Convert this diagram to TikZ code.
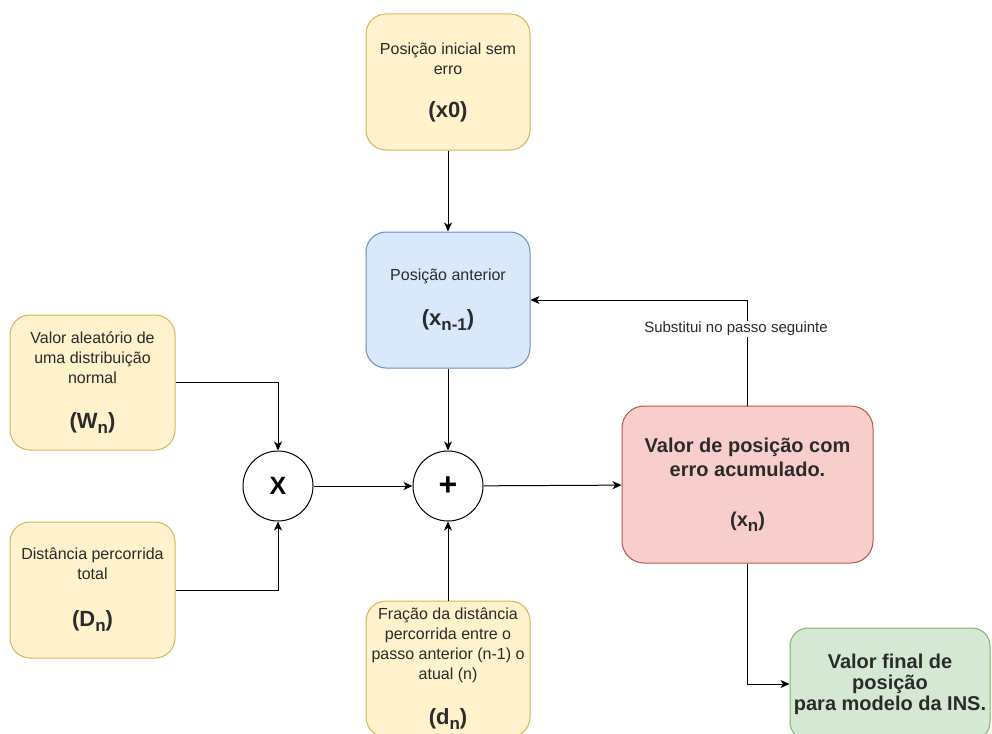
\documentclass[tikz,border=0pt]{standalone}
\usepackage{fontspec}
\setmainfont{Liberation Sans}
\usetikzlibrary{arrows.meta}
\definecolor{yfill}{HTML}{FFF2CC}
\definecolor{ydraw}{HTML}{D6B656}
\definecolor{bfill}{HTML}{DAE8FC}
\definecolor{bdraw}{HTML}{6C8EBF}
\definecolor{rfill}{HTML}{F8CECC}
\definecolor{rdraw}{HTML}{B85450}
\definecolor{gfill}{HTML}{D5E8D4}
\definecolor{gdraw}{HTML}{82B366}
\definecolor{txt}{HTML}{2B2B2B}
% bold variable label and its lowered index
\newcommand{\keyvar}[1]{{\bfseries\fontsize{22}{22}\selectfont #1}}
\newcommand{\subidx}[1]{\raisebox{-5pt}{\fontsize{17}{17}\selectfont #1}}
\begin{document}
\begin{tikzpicture}[x=1pt,y=-1pt,
  box/.style={rectangle, rounded corners=20pt, line width=1pt, align=center,
    inner sep=0pt, text=txt, font=\fontsize{16}{20}\selectfont},
  ybox/.style={box, fill=yfill, draw=ydraw, minimum width=164pt, minimum height=136pt},
  bbox/.style={box, fill=bfill, draw=bdraw, minimum width=164pt, minimum height=136pt},
  rbox/.style={box, fill=rfill, draw=rdraw, minimum width=251pt, minimum height=157pt,
    rounded corners=22pt, font=\bfseries\fontsize{20}{24}\selectfont},
  gbox/.style={box, fill=gfill, draw=gdraw, minimum width=200pt, minimum height=112pt,
    rounded corners=18pt, font=\bfseries\fontsize{20}{21}\selectfont},
  op/.style={circle, draw=black, fill=white, line width=1pt, minimum size=70pt,
    inner sep=0pt, text=black},
  flow/.style={line width=1pt, -{Stealth[length=9pt,width=8pt,inset=2.5pt]}},
  lbl/.style={fill=white, inner sep=1pt, text=txt, font=\fontsize{15}{18}\selectfont}
]
\useasboundingbox (0,0) rectangle (992,733);
\clip (0,0) rectangle (992,733);

% input and state boxes
\node[ybox] (x0) at (448,82) {Posição inicial sem\\erro\\[23pt]\keyvar{(x0)}};
\node[bbox] (prev) at (448,300) {Posição anterior\\[25pt]\keyvar{(x\subidx{\bfseries n-1})}};
\node[ybox, minimum width=165pt, minimum height=135pt] (wn) at (92.5,382.5)
  {Valor aleatório de\\uma distribuição\\normal\\[25pt]\keyvar{(W\subidx{\bfseries n})}};
\node[ybox, minimum width=165pt] (dist) at (92.5,590)
  {Distância percorrida\\total\\[27pt]\keyvar{(D\subidx{\bfseries n})}};
\node[ybox] (frac) at (448,669)
  {Fração da distância\\percorrida entre o\\passo anterior (n-1) o\\atual (n)\\[25pt]\keyvar{(d\subidx{\bfseries n})}};

% operators
\node[op, font=\bfseries\fontsize{25}{25}\selectfont] (mul) at (278,486) {X};
\node[op, font=\bfseries\fontsize{32}{32}\selectfont] (add) at (448,486) {+};

% results
\node[rbox] (acc) at (747.5,484.5)
  {Valor de posição com\\erro acumulado.\\[26pt](x\subidx{\bfseries n})};
\node[gbox] (final) at (890,684)
  {Valor final de\\posição\\para modelo da INS.};

% connectors
\draw[flow] (x0) -- (prev);
\draw[flow] (prev) -- (add);
\draw[flow] (wn.east) -| (mul.north);
\draw[flow] (dist.east) -| (mul.south);
\draw[flow] (mul) -- (add);
\draw[flow] (frac) -- (add);
\draw[flow] (add) -- (acc);
\draw[flow] (acc.north) |- (prev.east);
\draw[flow] (acc.south) |- (final.west);
\node[lbl] (swap) at (736,329) {Substitui no passo seguinte};
\end{tikzpicture}
\end{document}
